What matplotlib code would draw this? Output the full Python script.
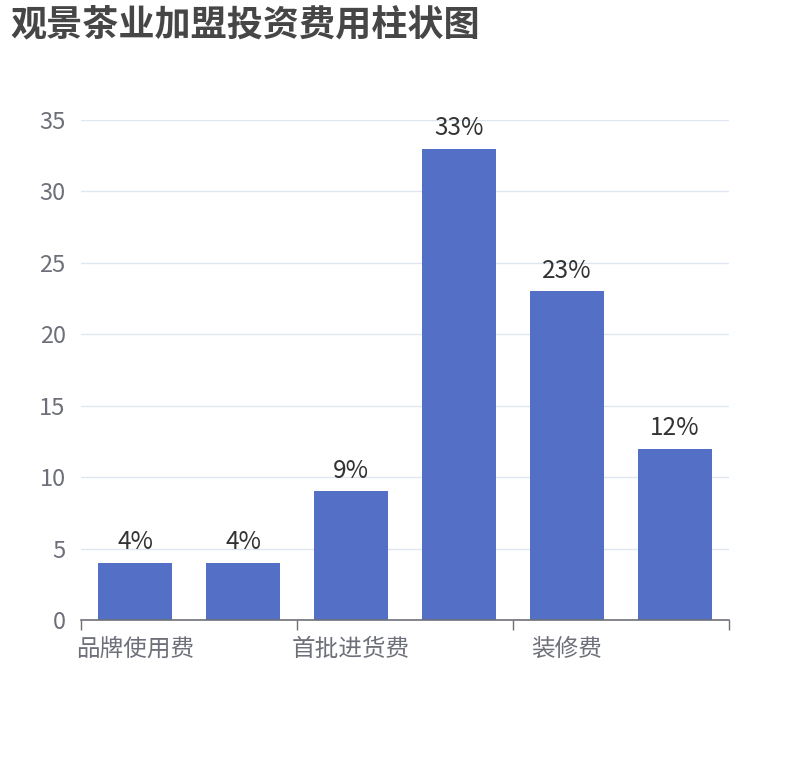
import matplotlib
matplotlib.use('Agg')
import matplotlib.pyplot as plt

plt.rcParams['font.family'] = ['Noto Sans CJK SC', 'DejaVu Sans']
plt.rcParams['axes.unicode_minus'] = False

# ── 데이터 ──
categories = ['品牌使用费', '加盟费', '首批进货费', '设备费', '装修费', '其他费用']
values = [4, 4, 9, 33, 23, 12]
bar_labels = ['4%', '4%', '9%', '33%', '23%', '12%']
y_ticks = [0, 5, 10, 15, 20, 25, 30, 35]
title = '观景茶业加盟投资费用柱状图'

BAR_COLOR = '#5470c6'
AXIS_COLOR = '#6e7079'
GRID_COLOR = '#e0e6f1'

fig = plt.figure(figsize=(8.1, 7.6), dpi=100)
ax = fig.add_axes([0.1, 0.1842, 0.8, 0.6579])

x = list(range(len(categories)))
bars = ax.bar(x, values, width=0.69, color=BAR_COLOR, zorder=3)
for bar, lab in zip(bars, bar_labels):
    ax.annotate(lab, (bar.get_x() + bar.get_width() / 2, bar.get_height()),
                xytext=(0, 5.5), textcoords='offset points',
                ha='center', va='bottom', fontsize=17.5, color='#333333')

ax.set_xlim(-0.5, len(categories) - 0.5)
ax.set_ylim(0, 35)
ax.set_yticks(y_ticks)
ax.set_yticklabels([str(v) for v in y_ticks], fontsize=17, color=AXIS_COLOR)
ax.yaxis.grid(True, color=GRID_COLOR, linewidth=1, zorder=0)
ax.tick_params(axis='y', length=0, pad=11)

# x축: 경계에 눈금, 2칸 간격으로 라벨만 표시
ax.set_xticks([-0.5, 1.5, 3.5, 5.5])
ax.set_xticklabels([])
ax.tick_params(axis='x', length=7, width=1, color=AXIS_COLOR)
for i in range(0, len(categories), 2):
    ax.text(i, -0.036, categories[i], transform=ax.get_xaxis_transform(),
            ha='center', va='top', fontsize=17, color=AXIS_COLOR)

for side in ['top', 'right', 'left']:
    ax.spines[side].set_visible(False)
ax.spines['bottom'].set_color(AXIS_COLOR)
ax.spines['bottom'].set_linewidth(1.2)
ax.spines['bottom'].set_zorder(4)

fig.text(10 / 810, 1 - 25 / 760, title, ha='left', va='center',
         fontsize=26, fontweight='bold', color='#464646')

fig.savefig('out.png', dpi=100, facecolor='white')
